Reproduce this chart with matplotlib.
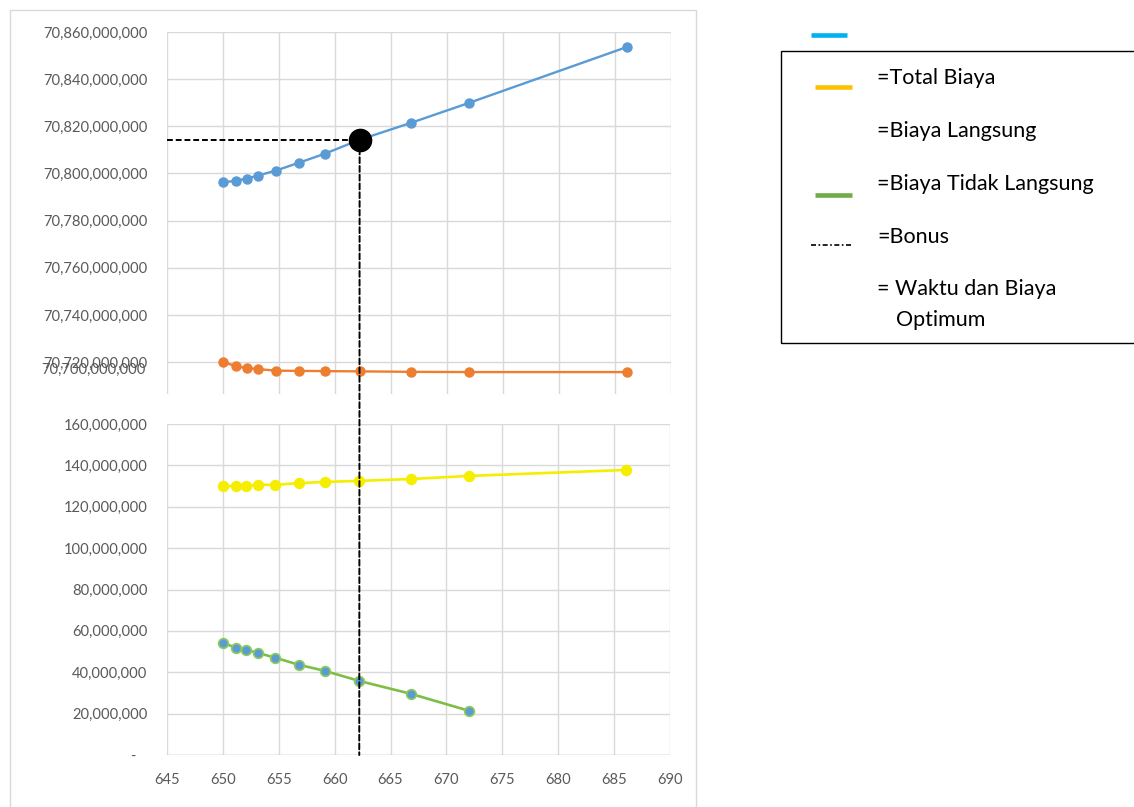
import matplotlib
matplotlib.use("Agg")
import matplotlib.pyplot as plt
from matplotlib.patches import Rectangle, ConnectionPatch
from matplotlib.lines import Line2D
from matplotlib.ticker import FuncFormatter

# ---------------- data ----------------
durasi = [650.0, 651.2, 652.1, 653.1, 654.7, 656.8, 659.1, 662.2, 666.8, 672.0, 686.1]
total_biaya = [70796.2e6, 70797.0e6, 70797.8e6, 70799.1e6, 70801.2e6, 70804.6e6,
               70808.4e6, 70814.3e6, 70821.5e6, 70830.0e6, 70853.7e6]
biaya_langsung = [70720.0e6, 70718.3e6, 70717.5e6, 70717.1e6, 70716.4e6, 70716.3e6,
                  70716.2e6, 70716.1e6, 70715.9e6, 70715.8e6, 70715.8e6]
bonus = [130.0e6, 130.0e6, 130.0e6, 130.6e6, 130.6e6, 131.4e6,
         132.0e6, 132.5e6, 133.4e6, 134.9e6, 137.8e6]
durasi_tl = [650.0, 651.2, 652.1, 653.1, 654.7, 656.8, 659.1, 662.2, 666.8, 672.0]
biaya_tidak_langsung = [54.2e6, 51.8e6, 50.8e6, 49.4e6, 47.0e6, 43.6e6,
                        40.7e6, 35.8e6, 29.6e6, 21.4e6]
opt_x = 662.2
opt_y = 70814.3e6
x_ticks = [645, 650, 655, 660, 665, 670, 675, 680, 685, 690]
legend_labels = ["=Total Biaya", "=Biaya Langsung", "=Biaya Tidak Langsung",
                 "=Bonus", "= Waktu dan Biaya", "Optimum"]

# ---------------- layout ----------------
W, H = 1134, 807
fig = plt.figure(figsize=(W / 100, H / 100), dpi=100)
fig.patch.set_facecolor("white")

def frac_box(l, t, r, b):
    return [l / W, 1 - b / H, (r - l) / W, (b - t) / H]

TICK_FONT = dict(family="Lato", size=10.6, color="#595959")
GRID = "#d9d9d9"

# outer chart border
fig.add_artist(Rectangle((10 / W, -0.01), (696 - 10) / W, 1 - 10 / H + 0.01,
                         transform=fig.transFigure, fill=False,
                         edgecolor="#d9d9d9", linewidth=1))

def style_axes(ax):
    for s in ax.spines.values():
        s.set_visible(False)
    ax.set_xlim(645, 690)
    ax.set_xticks(x_ticks)
    ax.grid(True, color=GRID, linewidth=1)
    ax.set_axisbelow(True)
    ax.tick_params(length=0)
    ax.set_facecolor("none")

# upper axes
ax1 = fig.add_axes(frac_box(167, 32, 671, 394))
style_axes(ax1)
ax1.set_ylim(70706.5e6, 70860e6)
ax1.set_yticks([70720e6 + 20e6 * i for i in range(8)])
ax1.yaxis.set_major_formatter(FuncFormatter(lambda v, p: f"{v:,.0f}"))
ax1.tick_params(axis="y", pad=14)
ax1.set_xticklabels([])
for lab in ax1.get_yticklabels():
    lab.set_fontfamily(TICK_FONT["family"])
    lab.set_fontsize(TICK_FONT["size"])
    lab.set_color(TICK_FONT["color"])
ax1.text(-0.043, 70716.6e6, "70,700,000,000", transform=ax1.get_yaxis_transform(),
         ha="right", va="center", clip_on=False, **TICK_FONT)

ax1.plot(durasi, total_biaya, color="#5B9BD5", linewidth=1.7, marker="o",
         markersize=6.5, zorder=3)
ax1.plot(durasi, biaya_langsung, color="#ED7D31", linewidth=1.7, marker="o",
         markersize=6.5, zorder=3)
ax1.plot([645, opt_x], [opt_y, opt_y], color="black", linewidth=1.4,
         linestyle=(0, (3, 1.5)), zorder=4)
ax1.plot([opt_x], [opt_y], marker="o", color="black", markersize=16, zorder=5)

# lower axes
ax2 = fig.add_axes(frac_box(167, 424, 670, 755))
style_axes(ax2)
ax2.set_ylim(0, 160e6)
ax2.set_yticks([20e6 * i for i in range(9)])
ax2.yaxis.set_major_formatter(FuncFormatter(lambda v, p: "-   " if v == 0 else f"{v:,.0f}"))
ax2.tick_params(axis="y", pad=14)
ax2.tick_params(axis="x", pad=13)
for lab in ax2.get_yticklabels() + ax2.get_xticklabels():
    lab.set_fontfamily(TICK_FONT["family"])
    lab.set_fontsize(TICK_FONT["size"])
    lab.set_color(TICK_FONT["color"])
ax2.axhline(0, color="#bfbfbf", linewidth=1, zorder=1)

ax2.plot(durasi, bonus, color="#F5EE00", linewidth=1.9, marker="o",
         markersize=7.2, zorder=3)
ax2.plot(durasi_tl, biaya_tidak_langsung, color="#7DBE45", linewidth=1.9,
         marker="o", markersize=7, markerfacecolor="#5B9BD5",
         markeredgecolor="#8CCB5A", markeredgewidth=1.2, zorder=3)

# vertical dashed line through both panels
con = ConnectionPatch(xyA=(opt_x, opt_y), coordsA=ax1.transData,
                      xyB=(opt_x, 0), coordsB=ax2.transData,
                      color="black", linewidth=1.4, linestyle=(0, (3, 1.5)),
                      zorder=4)
fig.add_artist(con)

# ---------------- legend (drawn as annotation box) ----------------
fig.add_artist(Rectangle((781 / W, 1 - 343 / H), (1140 - 781) / W, (343 - 51) / H,
                         transform=fig.transFigure, fill=False,
                         edgecolor="black", linewidth=1))

def fig_line(x0, x1, y, **kw):
    fig.add_artist(Line2D([x0 / W, x1 / W], [1 - y / H, 1 - y / H],
                          transform=fig.transFigure, **kw))

fig_line(811, 847, 35, color="#00B0F0", linewidth=3.3, solid_capstyle="butt")
fig_line(815, 852, 87, color="#FFC000", linewidth=3.3, solid_capstyle="butt")
fig_line(815, 852, 195, color="#70AD47", linewidth=3.3, solid_capstyle="butt")
fig_line(811, 851, 245, color="black", linewidth=1.2,
         linestyle=(0, (3, 1.5, 1, 1.5)))

LEG_FONT = dict(family="Lato", size=15.5, color="black")
leg_pos = [(877, 78), (877, 131), (877, 184), (877, 237), (877, 289), (896, 320)]
for (x, y), txt in zip(leg_pos, legend_labels):
    fig.text(x / W, 1 - y / H, txt, ha="left", va="center", **LEG_FONT)

fig.savefig("out.png", dpi=100)
